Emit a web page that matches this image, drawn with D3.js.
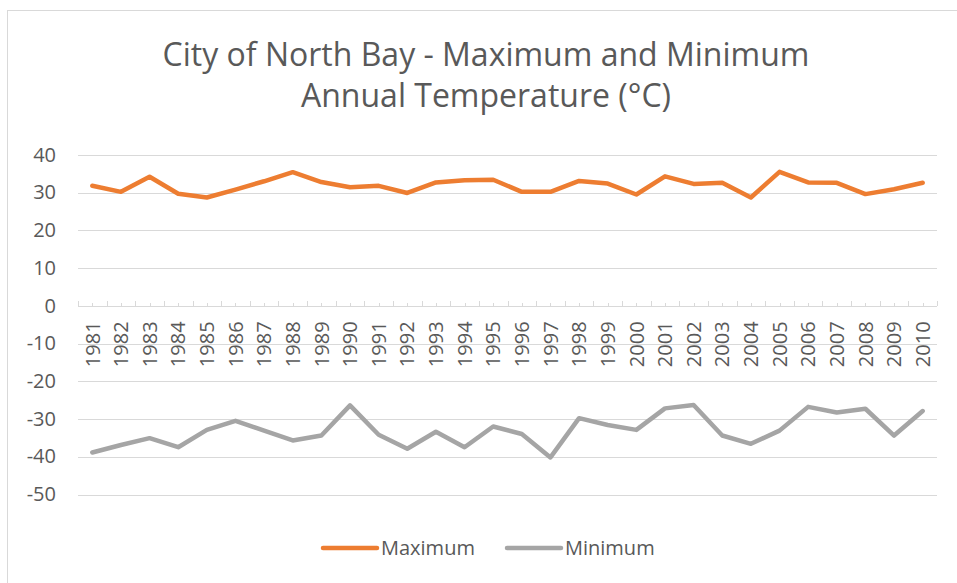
<!DOCTYPE html>
<html>
<head>
<meta charset="utf-8">
<script src="https://cdnjs.cloudflare.com/ajax/libs/d3/7.8.5/d3.min.js"></script>
<style>
  body { margin: 0; background: #fff; }
  svg text { font-family: 'Open Sans', sans-serif; fill: #595959; }
  .grid line { stroke: #d9d9d9; stroke-width: 1; shape-rendering: crispEdges; }
</style>
</head>
<body>
<div id="chart"></div>
<script>
var years = d3.range(1981, 2011).map(String);
var maxTemp = [31.7, 30.1, 34.1, 29.6, 28.6, 30.7, 32.9, 35.3, 32.7, 31.3,
               31.7, 29.8, 32.6, 33.2, 33.3, 30.1, 30.1, 33.0, 32.3, 29.4,
               34.2, 32.2, 32.5, 28.6, 35.4, 32.6, 32.5, 29.5, 30.8, 32.5];
var minTemp = [-39.0, -37.0, -35.2, -37.6, -33.0, -30.6, -33.2, -35.8, -34.5, -26.5,
               -34.3, -38.0, -33.5, -37.6, -32.1, -34.1, -40.3, -29.9, -31.7, -33.0,
               -27.3, -26.4, -34.5, -36.7, -33.2, -26.9, -28.4, -27.4, -34.5, -28.0];
var yTicks = [40, 30, 20, 10, 0, -10, -20, -30, -40, -50];
var seriesNames = ["Maximum", "Minimum"];
var colors = ["#ED7D31", "#A5A5A5"];

var W = 957, H = 583;
var margin = {top: 154.5, right: 20, bottom: 89, left: 78};
var width = 937 - margin.left, height = 494 - margin.top;

var svg = d3.select("#chart").append("svg")
  .attr("width", W).attr("height", H);

// chart area border (cropped at right/bottom)
svg.append("rect")
  .attr("x", 7.5).attr("y", 10.5)
  .attr("width", W + 10).attr("height", H + 10)
  .attr("fill", "none").attr("stroke", "#d9d9d9");

// title
var title = svg.append("text")
  .attr("text-anchor", "middle")
  .style("font-size", "32px");
title.append("tspan").attr("x", 486).attr("y", 66).text("City of North Bay - Maximum and Minimum");
title.append("tspan").attr("x", 486).attr("y", 107).text("Annual Temperature (°C)");

var g = svg.append("g").attr("transform", "translate(" + margin.left + "," + margin.top + ")");

var x = d3.scaleBand().domain(years).range([0, width]);
var y = d3.scaleLinear().domain([-50, 40]).range([height, 0]);

// gridlines
g.append("g").attr("class", "grid")
  .selectAll("line").data(yTicks.filter(function(d) { return d !== 0; })).enter()
  .append("line")
  .attr("x1", 0).attr("x2", width)
  .attr("y1", function(d) { return Math.round(y(d)) + 0.5; })
  .attr("y2", function(d) { return Math.round(y(d)) + 0.5; });

// y labels
g.append("g").selectAll("text").data(yTicks).enter()
  .append("text")
  .attr("x", -22).attr("y", function(d) { return y(d); })
  .attr("dy", "0.36em")
  .attr("text-anchor", "end")
  .style("font-size", "20px")
  .text(function(d) { return d; });

// category axis at zero
var zeroY = Math.round(y(0)) + 0.5;
var ax = g.append("g").attr("class", "grid");
ax.append("line").attr("x1", 0).attr("x2", width).attr("y1", zeroY).attr("y2", zeroY);
var bounds = d3.range(years.length + 1).map(function(i) { return i * x.bandwidth(); });
ax.selectAll(".major").data(bounds).enter().append("line")
  .attr("x1", function(d) { return Math.round(d) + 0.5; })
  .attr("x2", function(d) { return Math.round(d) + 0.5; })
  .attr("y1", zeroY).attr("y2", zeroY - 5);
ax.selectAll(".minor").data(years).enter().append("line")
  .attr("x1", function(d) { return Math.round(x(d) + x.bandwidth() / 2) + 0.5; })
  .attr("x2", function(d) { return Math.round(x(d) + x.bandwidth() / 2) + 0.5; })
  .attr("y1", zeroY).attr("y2", zeroY - 3);

g.append("g").selectAll("text").data(years).enter()
  .append("text")
  .attr("transform", function(d) {
    return "translate(" + (x(d) + x.bandwidth() / 2) + "," + (y(0) + 16) + ") rotate(-90)";
  })
  .attr("dy", "0.36em")
  .attr("text-anchor", "end")
  .style("font-size", "20px")
  .text(function(d) { return d; });

// lines
var line = d3.line()
  .x(function(d, i) { return x(years[i]) + x.bandwidth() / 2; })
  .y(function(d) { return y(d); });

[maxTemp, minTemp].forEach(function(s, i) {
  g.append("path")
    .datum(s)
    .attr("d", line)
    .attr("fill", "none")
    .attr("stroke", colors[i])
    .attr("stroke-width", 4.5)
    .attr("stroke-linejoin", "round")
    .attr("stroke-linecap", "round");
});

// legend
var legend = svg.append("g");
var lx = [323, 507];
seriesNames.forEach(function(name, i) {
  legend.append("line")
    .attr("x1", lx[i]).attr("x2", lx[i] + 54)
    .attr("y1", 548).attr("y2", 548)
    .attr("stroke", colors[i]).attr("stroke-width", 4.5).attr("stroke-linecap", "round");
  legend.append("text")
    .attr("x", lx[i] + 58).attr("y", 548).attr("dy", "0.36em")
    .style("font-size", "20px")
    .text(name);
});
</script>
</body>
</html>
